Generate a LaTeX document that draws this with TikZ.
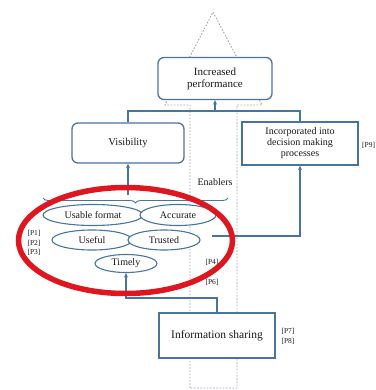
\documentclass[tikz,border=0pt]{standalone}
\usepackage{fontspec}
\setmainfont{Liberation Serif}
\usetikzlibrary{arrows.meta,shapes.geometric,decorations.pathreplacing}

\definecolor{boxblue}{RGB}{72,116,162}
\definecolor{markred}{RGB}{222,22,32}
\definecolor{dashgray}{RGB}{165,158,176}
\definecolor{inktext}{RGB}{25,25,25}

\begin{document}
\begin{tikzpicture}[x=1pt,y=-1pt,
  font=\fontsize{10}{11}\selectfont,
  every node/.style={text=inktext},
  box/.style={draw=boxblue, line width=1.3pt, fill=white, align=center, inner sep=0pt},
  roundbox/.style={box, rounded corners=6pt},
  oval/.style={ellipse, draw=boxblue, line width=1.1pt, fill=white, inner sep=0pt},
  conn/.style={draw=boxblue, line width=1.3pt},
  tip/.style={conn, -{Stealth[length=4.5pt,width=4pt]}},
  dashline/.style={draw=dashgray, line width=0.85pt, dash pattern=on 1.6pt off 1.6pt},
  ref/.style={font=\fontsize{7.5}{8}\selectfont, inner sep=0pt}
]
\useasboundingbox (0,0) rectangle (375,390);

% dashed "Enablers" arrow outline behind everything
\draw[dashline] (190,388) -- (190,105) -- (165,105) -- (213,12) -- (262,105)
  -- (237,105) -- (237,388) -- cycle;

% outcome boxes
\node[roundbox, minimum width=114pt, minimum height=42pt,
      font=\fontsize{11}{12}\selectfont] (perf) at (215,78.5) {Increased\\performance};
\node[roundbox, minimum width=112pt, minimum height=40pt,
      font=\fontsize{10.5}{12}\selectfont] (vis) at (128,143) {Visibility};
\node[box, minimum width=116pt, minimum height=43pt] (inc) at (300,143.5)
  {Incorporated into\\decision making\\processes};
\node[box, minimum width=116pt, minimum height=45pt,
      font=\fontsize{11.5}{13}\selectfont] (info) at (217,335.5) {Information sharing};

% information qualities
\node[oval, minimum width=100pt, minimum height=21pt] (usable) at (93,215) {Usable format};
\node[oval, minimum width=76pt, minimum height=21pt] (accurate) at (178,215) {Accurate};
\node[oval, minimum width=80pt, minimum height=20pt] (useful) at (92,240) {Useful};
\node[oval, minimum width=72pt, minimum height=20pt] (trusted) at (164,240) {Trusted};
\node[oval, minimum width=62pt, minimum height=18pt] (timely) at (126,263.5) {Timely};

% brace grouping the qualities
\draw[draw=boxblue, line width=0.9pt,
      decorate, decoration={brace, amplitude=5pt, mirror}] (43,198) -- (228,198);

\node (enablers) at (215,182) {Enablers};

% connectors
\coordinate (split) at (215,111);
\coordinate (bracetop) at (128,195);
\coordinate (trustout) at (212,236);
\coordinate (infobend) at (126,298);
\draw[conn] (vis.north) |- (split) -| (inc.north);
\draw[tip] (split) -- (perf.south);
\draw[tip] (bracetop) -- (vis.south);
\draw[tip] (trustout) -| (inc.south);
\draw[tip] (info.north) |- (infobend) -- (timely.south);

% source references
\node[ref] (p1) at (34,233) {[P1]};
\node[ref] (p2) at (34,243) {[P2]};
\node[ref] (p3) at (34,252) {[P3]};
\node[ref] (p4) at (212,262) {[P4]};
\node[ref] (p6) at (212,282) {[P6]};
\node[ref] (p7) at (288,331) {[P7]};
\node[ref] (p8) at (288,341) {[P8]};
\node[ref, anchor=west] (p9) at (362,145) {[P9]};

% hand-drawn red highlight
\draw[markred, line width=5.5pt] (125.5,240.5) ellipse [x radius=107, y radius=53];
\end{tikzpicture}
\end{document}
